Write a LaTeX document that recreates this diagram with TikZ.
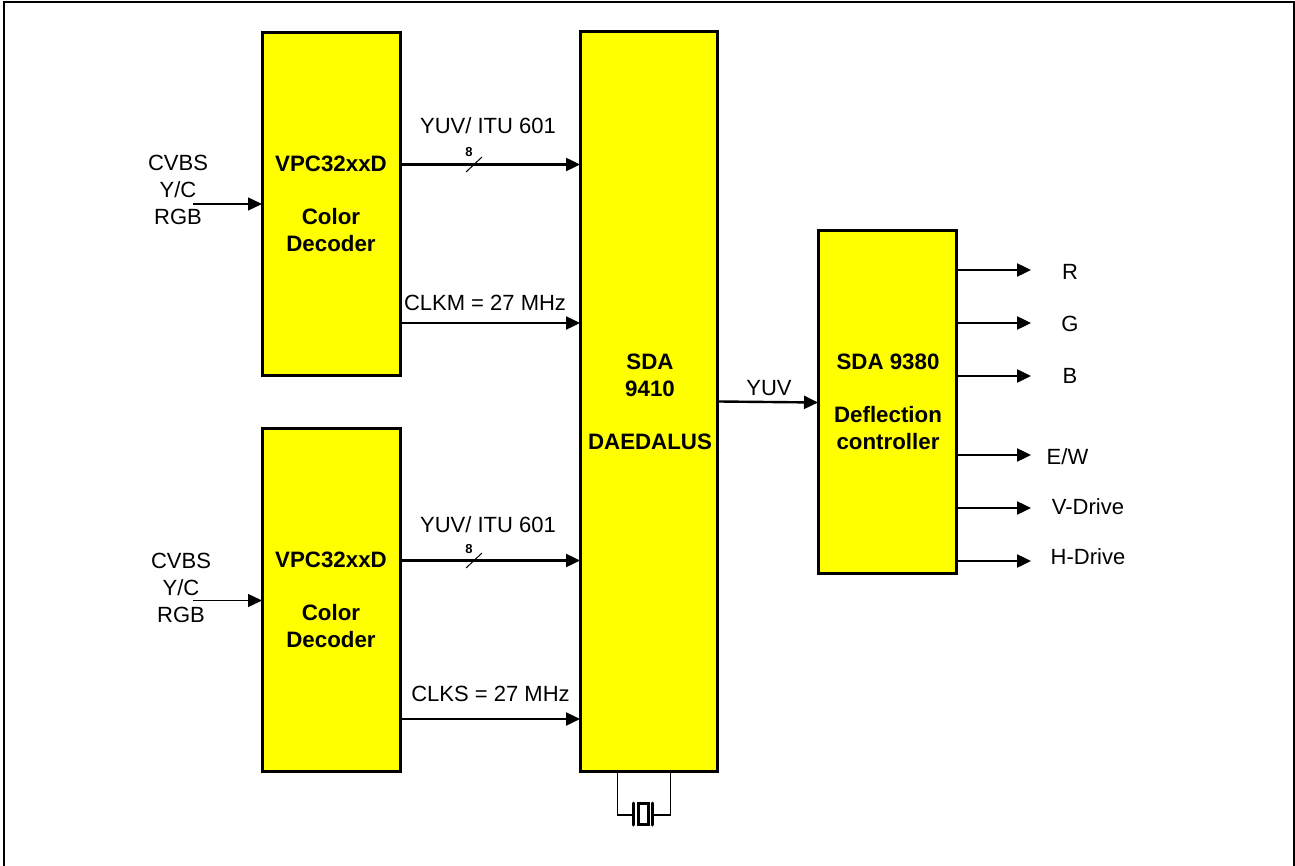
\documentclass[tikz,border=0pt]{standalone}
\usepackage{fontspec}
\setmainfont{Liberation Sans}
\usetikzlibrary{arrows.meta}
\definecolor{chipyellow}{RGB}{255,255,0}
\tikzset{
  chip/.style={draw=black,line width=3pt,fill=chipyellow,inner sep=0pt,anchor=north west},
  chiptext/.style={align=center,font=\fontsize{22.3}{27}\selectfont\bfseries,inner sep=0pt},
  lbl/.style={align=center,font=\fontsize{22}{27}\selectfont,inner sep=0pt,text=black},
  sig/.style={line width=2.4pt,shorten >=-1pt,-{Triangle[length=14pt,width=13pt]}},
  thin sig/.style={line width=1.4pt,shorten >=-1pt,-{Triangle[length=14pt,width=13pt]}},
  xtal/.style={line width=3pt,line cap=round},
}
\begin{document}
\begin{tikzpicture}[x=1pt,y=-1pt]
\useasboundingbox (0,0) rectangle (1295,866);
\fill[white] (0,0) rectangle (1295,866);
\draw[line width=2.4pt] (4,866) -- (4,2) -- (1294,2) -- (1294,866);
% chips
\node[chip,minimum width=138pt,minimum height=343pt] (d1) at (261,31) {};
\node[chip,minimum width=138pt,minimum height=343pt] (d2) at (261,427) {};
\node[chip,minimum width=137pt,minimum height=740pt] (daed) at (579,30) {};
\node[chip,minimum width=138pt,minimum height=343pt] (defl) at (817,229) {};
\node[chiptext] (d1t) at (331,204) {VPC32xxD\\[26pt]Color\\Decoder};
\node[chiptext] (d2t) at (331,600) {VPC32xxD\\[26pt]Color\\Decoder};
\node[chiptext] (daedt) at (650,402) {SDA\\9410\\[26pt]DAEDALUS};
\node[chiptext] (deflt) at (888,402) {SDA 9380\\[26pt]Deflection\\controller};
% input labels
\node[lbl] (in1) at (178,190) {CVBS\\Y/C\\RGB};
\node[lbl] (in2) at (181,588) {CVBS\\Y/C\\RGB};
\coordinate (in1s) at (193,204);
\coordinate (in2s) at (193,600.5);
\draw[thin sig] (in1s) -- (in1s -| d1.west);
\draw[thin sig] (in2s) -- (in2s -| d2.west);
% decoder to Daedalus
\coordinate (a1) at (402,164.5);
\coordinate (a2) at (402,323);
\coordinate (a3) at (402,560.5);
\coordinate (a4) at (402,719);
\draw[sig] (a1) -- (a1 -| daed.west);
\draw[sig] (a2) -- (a2 -| daed.west);
\draw[sig] (a3) -- (a3 -| daed.west);
\draw[sig] (a4) -- (a4 -| daed.west);
\node[lbl] (l1) at (488,126) {YUV/ ITU 601};
\node[lbl] (l2) at (485,303) {CLKM = 27 MHz};
\node[lbl] (l3) at (488,525) {YUV/ ITU 601};
\node[lbl] (l4) at (490.5,694) {CLKS = 27 MHz};
\node[font=\fontsize{13}{15}\selectfont\bfseries,inner sep=0pt] (n1) at (469,152.5) {8};
\node[font=\fontsize{13}{15}\selectfont\bfseries,inner sep=0pt] (n2) at (469,549.5) {8};
\coordinate (s1a) at (466,172); \coordinate (s1b) at (482,157);
\coordinate (s2a) at (466,568); \coordinate (s2b) at (482,553);
\draw[line width=1pt] (s1a) -- (s1b);
\draw[line width=1pt] (s2a) -- (s2b);
% YUV
\coordinate (y1) at (719,401.5);
\coordinate (y2) at (817,402.5);
\draw[sig] (y1) -- (y2);
\node[lbl] (yl) at (769,388) {YUV};
% outputs
\foreach \yy/\ty/\tt/\xx/\nm in {270/272/R/1070/r,323/324/G/1070/g,376/376/B/1070/b,455/456.5/E\slash W/1067.5/e,508/507/V-Drive/1088/v,561/557/H-Drive/1088/h}{
  \coordinate (o\nm) at (958,\yy);
  \coordinate (e\nm) at (1030,\yy);
  \draw[sig] (o\nm) -- (e\nm);
  \node[lbl] (t\nm) at (\xx,\ty) {\tt};
}
% crystal
\coordinate (c1) at (617.5,772);
\coordinate (c2) at (670.5,772);
\coordinate (k1) at (633,815);
\coordinate (k2) at (653,815);
\draw[line width=1.8pt] (c1) -- (c1 |- k1) -- (k1);
\draw[line width=1.8pt] (c2) -- (c2 |- k2) -- (k2);
\draw[xtal] (633.5,803) -- (633.5,825);
\draw[xtal] (652,803) -- (652,825);
\draw[line width=3pt] (638.5,803.5) rectangle (648,824.5);
\end{tikzpicture}
\end{document}
